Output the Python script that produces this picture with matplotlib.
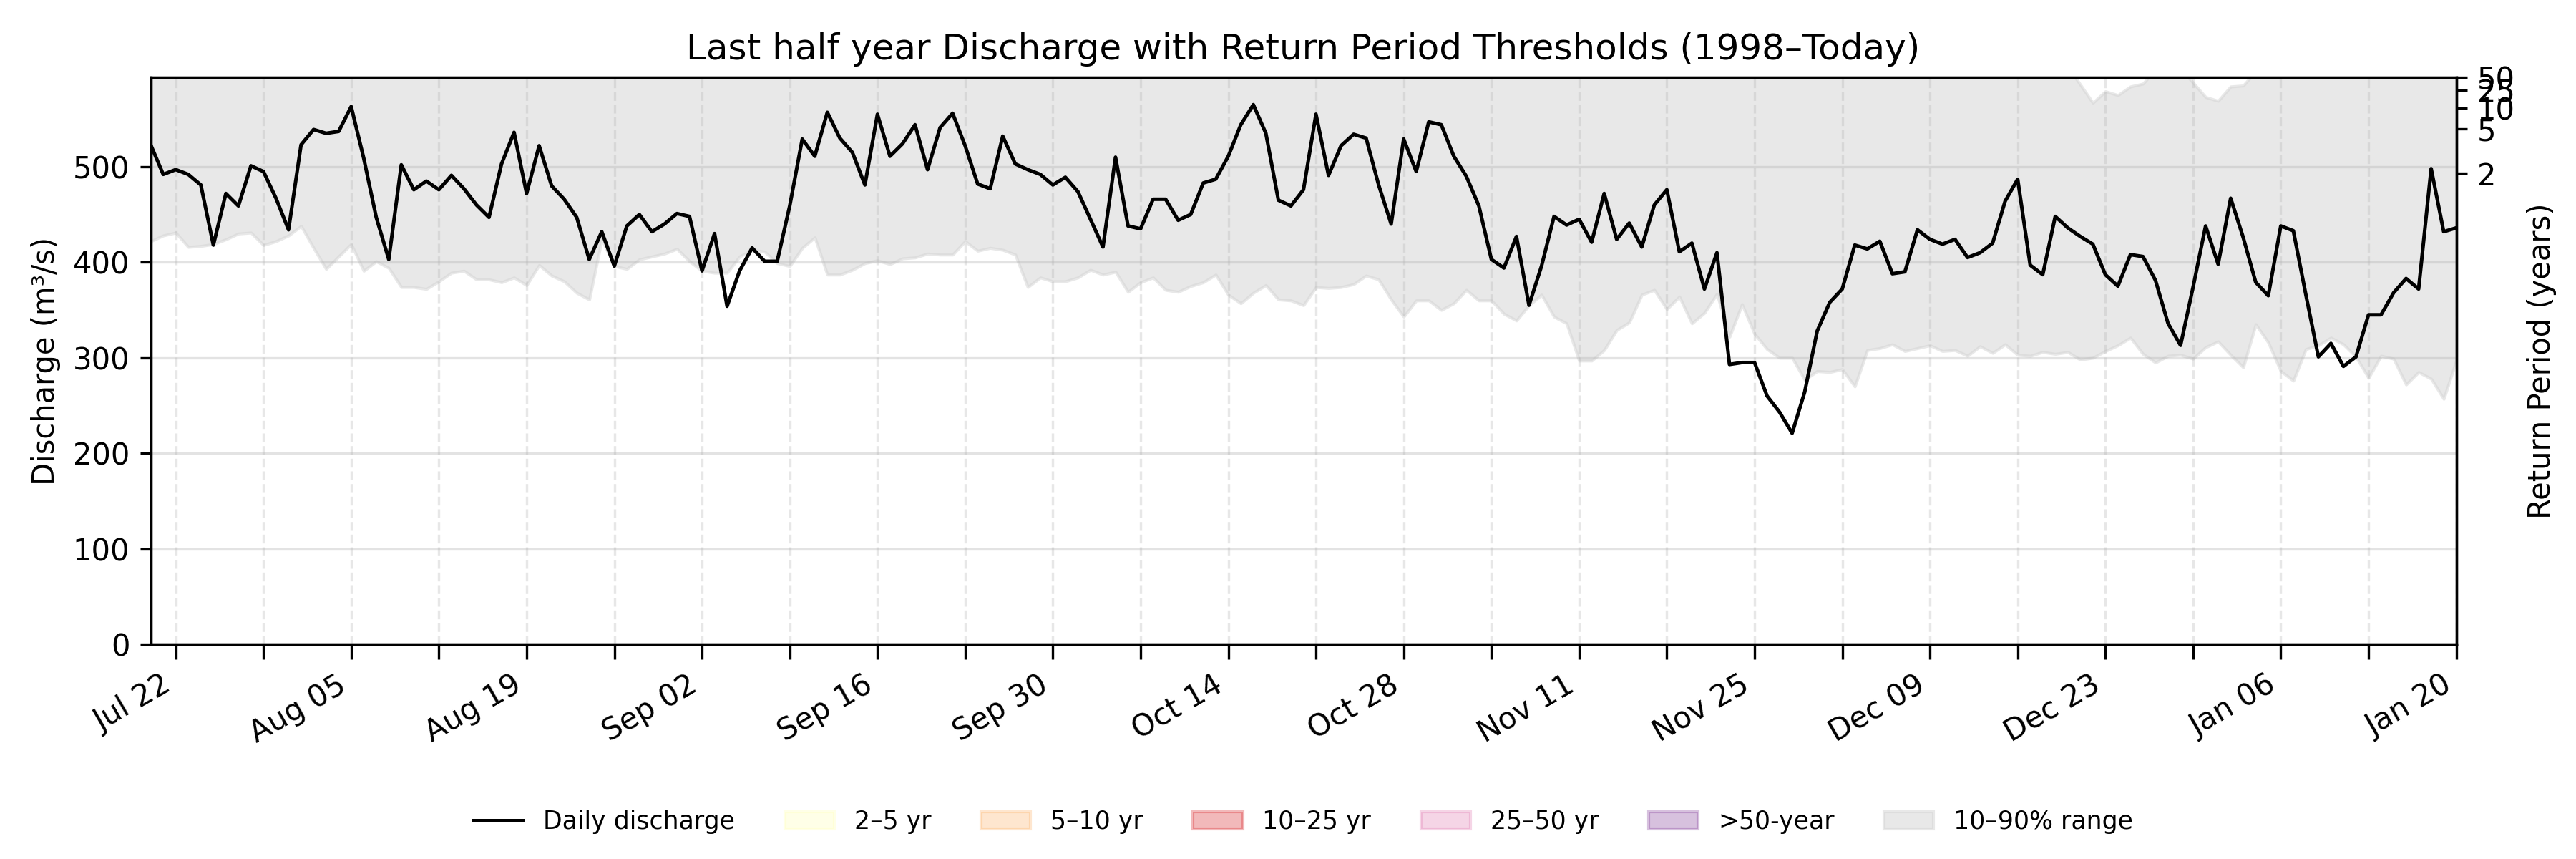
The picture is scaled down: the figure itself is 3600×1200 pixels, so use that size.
import numpy as np
import pandas as pd
import matplotlib
matplotlib.use("Agg")
import matplotlib.pyplot as plt
import matplotlib.dates as mdates
from matplotlib.ticker import FixedLocator
from matplotlib.lines import Line2D
from matplotlib.patches import Patch

# Daily discharge, 2025-07-20 .. 2026-01-20 (m3/s)
dates = pd.date_range("2025-07-20", "2026-01-20", freq="D")

discharge = [
    523, 492, 497, 492, 481, 418, 472, 459, 501, 495,
    467, 434, 523, 539, 535, 537, 563, 509, 447, 403,
    502, 476, 485, 476, 491, 477, 460, 447, 503, 536,
    472, 522, 480, 466, 447, 403, 432, 396, 438, 450,
    432, 440, 451, 448, 391, 430, 354, 391, 415, 401,
    401, 459, 529, 511, 557, 530, 515, 481, 555, 511,
    524, 544, 497, 541, 556, 522, 482, 477, 532, 503,
    497, 492, 481, 489, 474, 445, 416, 510, 438, 435,
    466, 466, 444, 450, 483, 487, 511, 544, 565, 535,
    465, 459, 476, 555, 491, 522, 534, 530, 481, 440,
    529, 495, 547, 544, 511, 490, 459, 403, 394, 427,
    355, 396, 448, 439, 445, 421, 472, 424, 441, 416,
    460, 476, 411, 420, 372, 410, 293, 295, 295, 260,
    243, 221, 264, 328, 358, 372, 418, 414, 422, 388,
    390, 434, 424, 419, 424, 405, 410, 420, 464, 487,
    397, 387, 448, 436, 427, 419, 387, 375, 408, 406,
    381, 336, 313, 374, 438, 398, 467, 426, 379, 365,
    438, 433, 366, 301, 315, 291, 301, 345, 345, 368,
    383, 372, 498, 432, 436,
]

# 10th percentile of the same calendar day (1998-today)
q10 = [
    422, 428, 431, 416, 417, 419, 424, 430, 431, 418,
    422, 428, 438, 415, 393, 406, 419, 391, 401, 394,
    374, 374, 372, 380, 389, 391, 382, 382, 379, 384,
    376, 397, 386, 380, 368, 361, 424, 396, 393, 403,
    406, 409, 414, 401, 391, 389, 389, 406, 413, 411,
    399, 396, 415, 426, 387, 387, 392, 399, 402, 398,
    404, 405, 409, 408, 408, 422, 412, 415, 413, 408,
    374, 384, 380, 380, 384, 392, 387, 390, 369, 379,
    384, 371, 369, 375, 379, 387, 366, 357, 368, 376,
    361, 360, 355, 374, 373, 374, 377, 386, 382, 361,
    343, 360, 360, 350, 357, 371, 360, 360, 346, 339,
    355, 366, 343, 336, 297, 297, 308, 329, 337, 366,
    371, 351, 364, 336, 347, 367, 322, 356, 325, 309,
    300, 300, 277, 286, 285, 288, 270, 308, 310, 314,
    307, 310, 313, 307, 308, 302, 312, 305, 314, 303,
    302, 306, 304, 306, 298, 300, 307, 313, 321, 304,
    295, 302, 303, 299, 311, 317, 303, 290, 335, 316,
    286, 276, 309, 313, 321, 314, 301, 279, 302, 299,
    272, 285, 278, 257, 297,
]

# 90th percentile (mostly above the plotted range)
q90 = [
    690, 688, 684, 680, 683, 679, 676, 681, 686, 684,
    680, 677, 682, 690, 694, 691, 697, 692, 685, 679,
    676, 673, 670, 672, 675, 671, 668, 666, 670, 674,
    671, 675, 668, 664, 660, 658, 662, 659, 656, 660,
    663, 661, 665, 662, 657, 654, 650, 653, 657, 655,
    652, 658, 664, 667, 672, 669, 665, 661, 666, 663,
    660, 664, 659, 662, 666, 661, 656, 652, 657, 653,
    650, 648, 645, 647, 644, 640, 637, 642, 638, 635,
    638, 640, 636, 639, 643, 647, 652, 658, 661, 655,
    649, 645, 648, 652, 647, 650, 654, 651, 645, 640,
    644, 639, 642, 646, 641, 637, 633, 628, 625, 630,
    624, 620, 626, 623, 627, 622, 628, 624, 627, 622,
    626, 629, 623, 626, 620, 624, 615, 618, 612, 614,
    610, 608, 613, 617, 621, 624, 627, 625, 628, 622,
    624, 627, 623, 620, 618, 615, 619, 622, 626, 629,
    624, 618, 613, 605, 586, 567, 579, 575, 584, 587,
    602, 610, 603, 588, 573, 569, 584, 585, 600, 612,
    618, 621, 615, 619, 624, 618, 614, 620, 625, 622,
    618, 623, 628, 624, 620,
]

# Return period thresholds (m3/s)
rp_years = [2, 5, 10, 25, 50]
rp_values = [493.2, 539.5, 561.3, 580.0, 593.3]

band_labels = ["2–5 yr", "5–10 yr", "10–25 yr", "25–50 yr", ">50-year"]
band_colors = ["#ffffb2", "#fdae61", "#d7191c", "#de77ae", "#7b3294"]

# tick dates: labelled every two weeks, grid every week
major_dates = pd.date_range("2025-07-22", "2026-01-20", freq="14D")
minor_dates = pd.date_range("2025-07-22", "2026-01-20", freq="7D")

fig, ax = plt.subplots(figsize=(12, 4), dpi=300)
fig.subplots_adjust(left=0.0585, right=0.9535, top=0.9096, bottom=0.25)

ax.fill_between(dates, q10, q90, color="lightgray", alpha=0.5)
ax.plot(dates, discharge, color="black", linewidth=1.2)

ax.set_xlim(dates[0], dates[-1])
ax.set_ylim(0, rp_values[-1])
ax.set_ylabel("Discharge (m³/s)")
ax.set_title("Last half year Discharge with Return Period Thresholds (1998–Today)")

ax.xaxis.set_major_locator(FixedLocator(mdates.date2num(major_dates)))
ax.xaxis.set_minor_locator(FixedLocator(mdates.date2num(minor_dates)))
ax.xaxis.set_major_formatter(mdates.DateFormatter("%b %d"))
ax.tick_params(axis="x", which="both", length=5, width=0.8)
plt.setp(ax.get_xticklabels(), rotation=30, ha="right")

ax.grid(axis="y", alpha=0.35)
ax.grid(axis="x", which="both", linestyle="--", alpha=0.3)

ax2 = ax.twinx()
ax2.set_ylim(ax.get_ylim())
ax2.set_yticks(rp_values)
ax2.set_yticklabels([str(y) for y in rp_years])
ax2.set_ylabel("Return Period (years)")

handles = [Line2D([], [], color="black", linewidth=1.2, label="Daily discharge")]
for lab, col in zip(band_labels, band_colors):
    handles.append(Patch(facecolor=col, edgecolor=col, alpha=0.3, label=lab))
handles.append(Patch(facecolor="lightgray", edgecolor="lightgray", alpha=0.5,
                     label="10–90% range"))
fig.legend(handles=handles, loc="center", bbox_to_anchor=(0.506, 0.043),
           ncol=7, frameon=False, fontsize="small")

fig.savefig("out.png", dpi=300)
